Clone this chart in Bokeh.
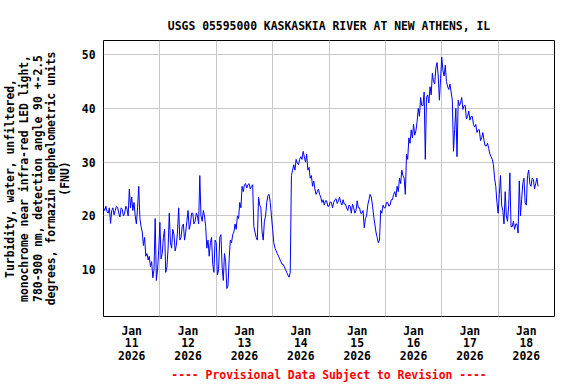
from bokeh.plotting import figure
from bokeh.models import FixedTicker, Range1d, Title
from bokeh.embed import file_html
from bokeh.resources import INLINE

# Turbidity (FNU), every 30 minutes starting 2026-01-11 00:00
turbidity = [
    21.5, 21.0, 21.8, 20.8, 20.5, 21.5, 18.6, 21.0, 21.5, 20.2, 21.0, 21.8,
    21.6, 20.5, 19.8, 21.5, 21.2, 20.0, 20.5, 21.8, 21.3, 20.0, 25.0, 21.5,
    23.5, 21.0, 22.5, 20.0, 18.5, 21.5, 25.5, 19.5, 18.0, 17.0, 14.5, 16.0,
    12.5, 13.0, 11.8, 12.5, 10.5, 11.5, 8.5, 10.0, 19.5, 8.0, 10.0, 13.5,
    18.8, 12.0, 13.0, 16.0, 17.5, 9.5, 10.5, 14.0, 20.5, 15.0, 14.0, 17.5,
    16.5, 13.5, 14.5, 17.0, 21.5, 15.5, 16.0, 18.0, 18.5, 15.5, 17.0, 19.0,
    21.0, 17.5, 18.5, 20.5, 20.5, 18.5, 19.0, 20.5, 20.0, 18.5, 27.5, 20.0,
    19.0, 21.0, 20.0, 18.0, 14.0, 15.5, 12.5, 15.0, 16.0, 11.0, 9.5, 15.5,
    15.0, 9.0, 10.0, 16.0, 16.5, 10.5, 8.0, 13.0, 11.5, 6.5, 7.0, 12.0,
    15.5, 15.0, 16.5, 17.0, 18.5, 17.5, 20.0, 19.5, 22.5, 21.5, 25.5, 24.5,
    25.8, 26.0, 25.2, 25.8, 26.0, 25.0, 25.5, 25.8, 18.0, 17.0, 16.0, 15.5,
    23.5, 22.0, 21.5, 17.0, 15.5, 19.0, 20.0, 22.5, 23.8, 24.0, 22.5, 20.0,
    17.5, 15.0, 14.0, 13.5, 13.0, 12.5, 12.0, 11.5, 11.0, 11.0, 10.5, 10.0,
    9.5, 9.0, 8.6, 9.5, 27.5, 28.5, 29.5, 28.5, 30.5, 29.8, 29.5, 30.5,
    31.0, 30.5, 32.0, 31.0, 30.0, 31.5, 28.5, 29.0, 27.0, 27.5, 25.5, 26.5,
    25.0, 24.0, 24.5, 25.0, 24.0, 23.5, 22.5, 23.0, 22.0, 22.8, 22.8, 21.8,
    21.8, 22.6, 22.5, 21.5, 22.5, 23.0, 23.2, 22.3, 22.8, 23.5, 22.5, 22.0,
    23.0, 22.2, 22.2, 21.5, 21.0, 22.0, 21.8, 20.5, 22.2, 21.5, 20.5, 21.0,
    22.8, 21.5, 21.5, 20.5, 20.5, 21.0, 17.8, 19.5, 20.0, 22.0, 23.0, 24.0,
    23.5, 22.0, 20.0, 18.5, 17.0, 16.0, 15.0, 15.5, 21.0, 20.5, 22.0, 21.5,
    21.5, 22.5, 22.5, 21.8, 22.0, 23.0, 23.0, 24.0, 24.5, 23.5, 25.5, 24.5,
    27.0, 26.0, 28.5, 27.5, 27.0, 24.0, 31.5, 30.5, 34.5, 33.5, 36.0, 34.5,
    37.0, 35.0, 35.8, 37.5, 40.0, 38.5, 42.0, 40.5, 40.5, 43.0, 30.5, 42.0,
    42.5, 41.0, 44.0, 42.5, 46.5, 45.0, 44.5, 47.5, 48.5, 46.0, 41.5, 45.5,
    49.5, 47.0, 46.0, 48.0, 45.0, 44.0, 43.5, 44.5, 43.0, 41.5, 32.0, 36.0,
    40.0, 31.0, 41.5, 40.5, 41.0, 42.0, 39.8, 40.5, 40.5, 38.0, 38.5, 39.5,
    37.8, 38.5, 38.5, 37.0, 36.5, 37.0, 35.5, 36.0, 36.0, 34.0, 34.5, 35.5,
    34.0, 33.0, 33.0, 33.5, 32.5, 31.5, 31.0, 30.5, 29.5, 27.0, 25.5, 22.5,
    20.5, 24.0, 27.5, 22.0, 21.0, 18.5, 24.5, 20.0, 19.0, 22.0, 28.0, 18.0,
    18.0, 19.0, 17.5, 18.5, 18.5, 16.8, 26.5, 20.0, 23.0, 26.0, 27.0, 22.5,
    22.0, 27.5, 28.5, 26.0, 25.5, 27.0, 26.8, 25.0, 26.0, 27.0, 25.5,
]
# x in days since 2026-01-11 00:00 (30-minute readings)
days = [i / 48.0 for i in range(len(turbidity))]

tick_days = [0.5, 1.5, 2.5, 3.5, 4.5, 5.5, 6.5, 7.5]
tick_labels = ["Jan\n11\n2026", "Jan\n12\n2026", "Jan\n13\n2026", "Jan\n14\n2026",
               "Jan\n15\n2026", "Jan\n16\n2026", "Jan\n17\n2026", "Jan\n18\n2026"]
grid_days = [1, 2, 3, 4, 5, 6, 7]
y_ticks = [10, 20, 30, 40, 50]

FONT = "DejaVu Sans Mono"
FS = "11.4px"

p = figure(width=576, height=384, output_backend="svg", toolbar_location=None,
           x_range=Range1d(0, 8), y_range=Range1d(1.3, 52.6),
           min_border_left=103, min_border_right=22, min_border_top=40,
           min_border_bottom=68)

p.title.text = "USGS 05595000 KASKASKIA RIVER AT NEW ATHENS, IL"
p.title.align = "center"
p.title.text_font = FONT
p.title.text_font_size = FS
p.title.text_font_style = "bold"
p.title.text_color = "black"
p.title.standoff = 16

p.line(days, turbidity, line_color="#0000ff", line_width=1)

p.outline_line_color = "black"
p.outline_line_width = 1

p.xaxis.ticker = FixedTicker(ticks=tick_days)
p.xaxis.major_label_overrides = {float(t): l for t, l in zip(tick_days, tick_labels)}
p.yaxis.ticker = FixedTicker(ticks=y_ticks)
p.xgrid.ticker = FixedTicker(ticks=grid_days)
p.ygrid.ticker = FixedTicker(ticks=y_ticks)
for g in (p.xgrid, p.ygrid):
    g.grid_line_color = "#c8c8c8"
    g.grid_line_width = 1

for ax in (p.xaxis, p.yaxis):
    ax.axis_line_color = None
    ax.major_tick_line_color = None
    ax.minor_tick_line_color = None
    ax.major_tick_out = 0
    ax.major_tick_in = 0
    ax.major_label_text_font = FONT
    ax.major_label_text_font_size = FS
    ax.major_label_text_font_style = "bold"
    ax.major_label_text_color = "black"
    ax.major_label_text_line_height = 0.9
    ax.axis_label_text_font = FONT
    ax.axis_label_text_font_size = FS
    ax.axis_label_text_font_style = "bold"
    ax.axis_label_text_color = "black"
    ax.axis_label_text_line_height = 0.97

p.xaxis.major_label_standoff = 7
p.yaxis.major_label_standoff = 8
p.yaxis.axis_label = ("Turbidity, water, unfiltered,\n"
                      "monochrome near infra-red LED light,\n"
                      "780-900 nm, detection angle 90 +-2.5\n"
                      "degrees, formazin nephelometric units\n"
                      "(FNU)")
p.yaxis.axis_label_standoff = 7

note = Title(text="---- Provisional Data Subject to Revision ----", align="center",
             text_font=FONT, text_font_size=FS, text_font_style="bold",
             text_color="#ff0000", standoff=1)
p.add_layout(note, "below")

open("out.html", "w").write(file_html(p, INLINE))
